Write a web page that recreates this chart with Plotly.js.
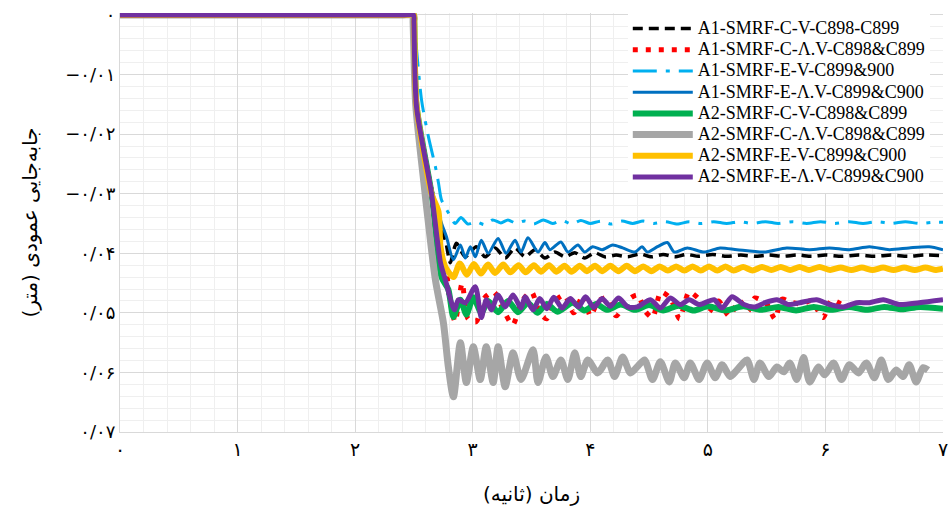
<!DOCTYPE html>
<html>
<head>
<meta charset="utf-8">
<script src="https://cdn.plot.ly/plotly-3.0.1.min.js"></script>
<style>html,body{margin:0;padding:0;background:#fff;}#chart{width:949px;height:516px;}</style>
</head>
<body>
<div id="chart"></div>
<script>
// ---- tick labels ----
const xTickVals = [0, 1, 2, 3, 4, 5, 6, 7];
const xTickText = ['۰', '۱', '۲', '۳', '۴', '۵', '۶', '۷'];
const yTickVals = [0, -0.01, -0.02, -0.03, -0.04, -0.05, -0.06, -0.07];
const yTickText = ['۰', '−۰/۰۱', '−۰/۰۲', '−۰/۰۳', '۰/۰۴', '۰/۰۵', '۰/۰۶', '۰/۰۷'];

// ---- series names ----
const seriesNames = [
  'A1-SMRF-C-V-C898-C899',
  'A1-SMRF-C-Λ.V-C898&C899',
  'A1-SMRF-E-V-C899&900',
  'A1-SMRF-E-Λ.V-C899&C900',
  'A2-SMRF-C-V-C898&C899',
  'A2-SMRF-C-Λ.V-C898&C899',
  'A2-SMRF-E-V-C899&C900',
  'A2-SMRF-E-Λ.V-C899&C900'
];

// ---- A1-SMRF-C-V (black dashed) ----
const tBlack = [0, 2.4, 2.5, 2.503, 2.522, 2.66, 2.74, 2.768, 2.81, 2.861, 2.937, 3.03, 3.106, 3.191, 3.276, 3.36, 3.445, 3.53, 3.614, 3.699, 3.784, 3.868, 3.953, 4.038, 4.122, 4.22, 4.32, 4.42, 4.52, 4.62, 4.72, 4.82, 4.92, 5.04, 5.16, 5.28, 5.40, 5.52, 5.64, 5.76, 5.88, 6.00, 6.14, 6.28, 6.42, 6.56, 6.70, 6.84, 7.00];
const vBlack = [0, 0, 0, -0.0012, -0.0152, -0.0300, -0.0365, -0.0378, -0.0416, -0.0383, -0.0406, -0.0389, -0.0406, -0.0391, -0.0408, -0.0391, -0.0406, -0.0394, -0.0408, -0.0398, -0.0406, -0.0399, -0.0408, -0.0399, -0.0406, -0.0403, -0.0406, -0.0401, -0.0406, -0.0402, -0.0406, -0.0402, -0.0405, -0.0402, -0.0405, -0.0403, -0.0405, -0.0403, -0.0405, -0.0403, -0.0405, -0.0403, -0.0405, -0.0403, -0.0405, -0.0403, -0.0405, -0.0403, -0.0404];

// ---- A1-SMRF-C-8V (red dotted) ----
const tRed = [0, 2.4, 2.5, 2.503, 2.522, 2.65, 2.73, 2.776, 2.80, 2.85, 2.91, 2.96, 3.03, 3.10, 3.18, 3.26, 3.34, 3.42, 3.50, 3.57, 3.63, 3.70, 3.78, 3.86, 3.94, 4.00, 4.07, 4.14, 4.22, 4.31, 4.40, 4.47, 4.53, 4.60, 4.68, 4.76, 4.84, 4.94, 5.00, 5.09, 5.18, 5.27, 5.34, 5.40, 5.50, 5.57, 5.63, 5.70, 5.80, 5.88, 5.98, 6.05, 6.13];
const vRed = [0, 0, 0, -0.0012, -0.0152, -0.0300, -0.0415, -0.0433, -0.0470, -0.0515, -0.0450, -0.0510, -0.0515, -0.0475, -0.0465, -0.0495, -0.0520, -0.0480, -0.0465, -0.0500, -0.0510, -0.0480, -0.0470, -0.0500, -0.0470, -0.0505, -0.0480, -0.0475, -0.0505, -0.0480, -0.0470, -0.0498, -0.0508, -0.0465, -0.0475, -0.0510, -0.0465, -0.0480, -0.0500, -0.0480, -0.0505, -0.0480, -0.0497, -0.0475, -0.0485, -0.0510, -0.0477, -0.0482, -0.0485, -0.0480, -0.0508, -0.0479, -0.0485];

// ---- A1-SMRF-E-V (light blue dash-dot) ----
const tLBlue = [0, 2.4, 2.5, 2.503, 2.565, 2.624, 2.683, 2.709, 2.734, 2.793, 2.85, 2.90, 2.96, 3.03, 3.10, 3.17, 3.24, 3.30, 3.37, 3.44, 3.52, 3.60, 3.68, 3.76, 3.84, 3.92, 4.00, 4.09, 4.18, 4.27, 4.36, 4.45, 4.54, 4.64, 4.74, 4.84, 4.94, 5.05, 5.16, 5.27, 5.38, 5.49, 5.60, 5.72, 5.84, 5.96, 6.08, 6.20, 6.32, 6.44, 6.56, 6.68, 6.80, 6.92, 7.00];
const vLBlue = [0, 0, 0, -0.0012, -0.0143, -0.0205, -0.0255, -0.0282, -0.0310, -0.0332, -0.0350, -0.0340, -0.0351, -0.0347, -0.0352, -0.0344, -0.0349, -0.0344, -0.0350, -0.0346, -0.0351, -0.0344, -0.0350, -0.0345, -0.0351, -0.0345, -0.0350, -0.0346, -0.0351, -0.0346, -0.0350, -0.0346, -0.0350, -0.0347, -0.0351, -0.0347, -0.0350, -0.0347, -0.0350, -0.0347, -0.0350, -0.0347, -0.0350, -0.0347, -0.0350, -0.0347, -0.0350, -0.0347, -0.0350, -0.0347, -0.0350, -0.0347, -0.0350, -0.0348, -0.0348];

// ---- A1-SMRF-E-8V (blue solid) ----
const tBlue = [0, 2.4, 2.5, 2.503, 2.522, 2.66, 2.734, 2.776, 2.836, 2.895, 2.937, 2.98, 3.022, 3.073, 3.132, 3.216, 3.284, 3.36, 3.411, 3.47, 3.555, 3.614, 3.657, 3.75, 3.81, 3.895, 3.953, 4.02, 4.10, 4.19, 4.275, 4.38, 4.44, 4.486, 4.571, 4.655, 4.715, 4.825, 4.969, 5.104, 5.248, 5.477, 5.671, 5.866, 6.035, 6.204, 6.374, 6.543, 6.712, 6.882, 7.0];
const vBlue = [0, 0, 0, -0.0012, -0.0152, -0.0298, -0.0349, -0.0372, -0.0411, -0.0386, -0.0408, -0.0389, -0.0406, -0.0378, -0.0400, -0.0375, -0.0400, -0.0378, -0.0398, -0.0374, -0.0398, -0.0382, -0.0394, -0.0381, -0.0398, -0.0386, -0.0398, -0.0389, -0.0394, -0.0386, -0.0391, -0.0398, -0.0389, -0.0398, -0.0389, -0.0382, -0.0398, -0.0391, -0.0398, -0.0391, -0.0394, -0.0398, -0.0391, -0.0394, -0.0391, -0.0394, -0.0389, -0.0394, -0.0391, -0.0389, -0.0394];

// ---- A2-SMRF-C-V (green) ----
const tGreen = [0, 2.4, 2.5, 2.503, 2.522, 2.65, 2.734, 2.793, 2.836, 2.895, 2.946, 3.005, 3.073, 3.132, 3.216, 3.30, 3.385, 3.47, 3.55, 3.63, 3.72, 3.85, 3.95, 4.05, 4.14, 4.26, 4.38, 4.50, 4.62, 4.75, 4.88, 5.00, 5.15, 5.30, 5.45, 5.60, 5.75, 5.90, 6.05, 6.20, 6.35, 6.50, 6.65, 6.80, 7.00];
const vGreen = [0, 0, 0, -0.0012, -0.0152, -0.0300, -0.0440, -0.0461, -0.0507, -0.0478, -0.0503, -0.0474, -0.0500, -0.0480, -0.0499, -0.0480, -0.0499, -0.0483, -0.0500, -0.0485, -0.0498, -0.0483, -0.0496, -0.0485, -0.0495, -0.0486, -0.0495, -0.0487, -0.0496, -0.0488, -0.0496, -0.0489, -0.0496, -0.0489, -0.0495, -0.0490, -0.0496, -0.0490, -0.0495, -0.0490, -0.0495, -0.0490, -0.0494, -0.0490, -0.0493];

// ---- A2-SMRF-C-8V (gray) ----
const tGray = [0, 2.39, 2.49, 2.493, 2.515, 2.582, 2.683, 2.751, 2.793, 2.836, 2.895, 2.946, 3.005, 3.064, 3.115, 3.174, 3.216, 3.276, 3.343, 3.411, 3.513, 3.555, 3.623, 3.682, 3.750, 3.809, 3.868, 3.919, 3.979, 4.063, 4.148, 4.207, 4.275, 4.342, 4.402, 4.461, 4.529, 4.596, 4.672, 4.723, 4.799, 4.850, 4.926, 4.994, 5.062, 5.121, 5.189, 5.248, 5.333, 5.392, 5.443, 5.519, 5.587, 5.646, 5.697, 5.756, 5.815, 5.866, 5.942, 5.993, 6.069, 6.137, 6.204, 6.281, 6.348, 6.416, 6.475, 6.535, 6.602, 6.662, 6.712, 6.772, 6.831, 6.873];
const vGray = [0, 0, 0, -0.0012, -0.0150, -0.0277, -0.0445, -0.0517, -0.0591, -0.0641, -0.0550, -0.0617, -0.0557, -0.0612, -0.0557, -0.0617, -0.0557, -0.0624, -0.0567, -0.0612, -0.0562, -0.0617, -0.0574, -0.0607, -0.0579, -0.0612, -0.0567, -0.0607, -0.0579, -0.0601, -0.0579, -0.0607, -0.0574, -0.0601, -0.0590, -0.0579, -0.0612, -0.0582, -0.0616, -0.0584, -0.0609, -0.0584, -0.0612, -0.0584, -0.0609, -0.0587, -0.0607, -0.0596, -0.0579, -0.0612, -0.0584, -0.0607, -0.0591, -0.0599, -0.0584, -0.0612, -0.0575, -0.0616, -0.0591, -0.0604, -0.0584, -0.0612, -0.0587, -0.0601, -0.0584, -0.0609, -0.0579, -0.0612, -0.0596, -0.0607, -0.0587, -0.0616, -0.0592, -0.0596];

// ---- A2-SMRF-E-V (yellow) ----
const tYellow = [0, 2.4, 2.5, 2.503, 2.522, 2.65, 2.709, 2.726, 2.768, 2.836, 2.89, 2.95, 3.01, 3.07, 3.13, 3.19, 3.26, 3.32, 3.39, 3.45, 3.52, 3.58, 3.65, 3.71, 3.78, 3.84, 3.91, 3.97, 4.04, 4.10, 4.17, 4.24, 4.31, 4.38, 4.45, 4.52, 4.59, 4.66, 4.73, 4.80, 4.87, 4.94, 5.01, 5.08, 5.15, 5.22, 5.30, 5.38, 5.46, 5.54, 5.62, 5.70, 5.78, 5.86, 5.95, 6.04, 6.13, 6.22, 6.31, 6.40, 6.49, 6.58, 6.67, 6.76, 6.85, 6.94, 7.00];
const vYellow = [0, 0, 0, -0.0012, -0.0152, -0.0300, -0.0330, -0.0389, -0.0423, -0.0440, -0.0417, -0.0436, -0.0418, -0.0434, -0.0419, -0.0433, -0.0419, -0.0432, -0.0420, -0.0432, -0.0420, -0.0431, -0.0420, -0.0431, -0.0421, -0.0431, -0.0421, -0.0430, -0.0421, -0.0430, -0.0421, -0.0430, -0.0421, -0.0430, -0.0422, -0.0430, -0.0422, -0.0429, -0.0422, -0.0429, -0.0422, -0.0429, -0.0422, -0.0429, -0.0422, -0.0429, -0.0423, -0.0429, -0.0423, -0.0428, -0.0423, -0.0428, -0.0423, -0.0428, -0.0423, -0.0428, -0.0424, -0.0428, -0.0424, -0.0428, -0.0424, -0.0428, -0.0424, -0.0428, -0.0424, -0.0428, -0.0426];

// ---- A2-SMRF-E-8V (purple) ----
const tPurple = [0, 2.4, 2.497, 2.5, 2.522, 2.649, 2.726, 2.768, 2.844, 2.878, 2.937, 3.022, 3.073, 3.115, 3.157, 3.216, 3.276, 3.343, 3.411, 3.445, 3.513, 3.57, 3.63, 3.69, 3.76, 3.83, 3.90, 3.96, 4.03, 4.10, 4.17, 4.24, 4.32, 4.40, 4.512, 4.596, 4.681, 4.765, 4.842, 4.926, 5.053, 5.121, 5.206, 5.307, 5.400, 5.485, 5.587, 5.688, 5.781, 5.925, 6.035, 6.154, 6.264, 6.374, 6.492, 6.628, 6.797, 7.0];
const vPurple = [0, 0, 0, -0.0012, -0.0154, -0.0299, -0.0416, -0.0445, -0.0495, -0.0478, -0.0483, -0.0456, -0.0508, -0.0478, -0.0495, -0.0470, -0.0490, -0.0470, -0.0492, -0.0473, -0.0495, -0.0476, -0.0493, -0.0474, -0.0492, -0.0476, -0.0490, -0.0473, -0.0491, -0.0476, -0.0489, -0.0475, -0.0490, -0.0490, -0.0478, -0.0492, -0.0475, -0.0486, -0.0478, -0.0486, -0.0478, -0.0492, -0.0473, -0.0486, -0.0490, -0.0483, -0.0478, -0.0486, -0.0483, -0.0478, -0.0486, -0.0490, -0.0483, -0.0483, -0.0478, -0.0486, -0.0483, -0.0478];

const seriesT = [tBlack, tRed, tLBlue, tBlue, tGreen, tGray, tYellow, tPurple];
const seriesV = [vBlack, vRed, vLBlue, vBlue, vGreen, vGray, vYellow, vPurple];

// styles (kept apart from the data)
const styles = [
  {color: '#000000', width: 3.5, dash: '10px,6px'},
  {color: '#ff0000', width: 5, dash: '5px,8px'},
  {color: '#00b0f0', width: 3, dash: '24px,9px,4px,9px'},
  {color: '#0070c0', width: 3, dash: 'solid'},
  {color: '#00b050', width: 6, dash: 'solid'},
  {color: '#a6a6a6', width: 7, dash: 'solid'},
  {color: '#ffc000', width: 6, dash: 'solid'},
  {color: '#7030a0', width: 5, dash: 'solid'}
];

const traces = seriesNames.map((name, i) => ({
  type: 'scatter',
  mode: 'lines',
  name: '<span style="font-size:18px">' + name.replace(/&/g, '&amp;') + '</span>',
  x: seriesT[i],
  y: seriesV[i],
  line: {color: styles[i].color, width: styles[i].width, dash: styles[i].dash, shape: 'spline', smoothing: 0.7}
}));

const serif = 'Liberation Serif, Times New Roman, DejaVu Sans, serif';
const persian = 'DejaVu Sans, Liberation Serif, serif';

const layout = {
  width: 949,
  height: 516,
  margin: {l: 120, r: 6, t: 13, b: 84},
  paper_bgcolor: '#ffffff',
  plot_bgcolor: '#ffffff',
  showlegend: true,
  hovermode: false,
  legend: {
    x: 0.617, xanchor: 'left', y: 1, yanchor: 'top',
    bgcolor: '#ffffff', borderwidth: 0,
    font: {family: serif, size: 14, color: '#000000'},
    itemwidth: 60,
    tracegroupgap: 0
  },
  xaxis: {
    range: [0, 7],
    tickmode: 'array', tickvals: xTickVals, ticktext: xTickText,
    ticks: '',
    ticklabeloverflow: 'allow',
    tickfont: {family: persian, size: 19, color: '#000000'},
    showgrid: true, gridcolor: '#d9d9d9', gridwidth: 1,
    minor: {tickmode: 'linear', tick0: 0, dtick: 0.2, showgrid: true, gridcolor: '#efefef', gridwidth: 1, ticks: ''},
    showline: true, linecolor: '#d9d9d9', linewidth: 1,
    zeroline: false,
    title: {text: '\u200Fزمان (ثانیه)\u200F', font: {family: persian, size: 20, color: '#000000'}, standoff: 28}
  },
  yaxis: {
    range: [-0.07, 0.00033],
    tickmode: 'array', tickvals: yTickVals, ticktext: yTickText,
    ticks: '',
    tickfont: {family: persian, size: 18, color: '#000000'},
    showgrid: true, gridcolor: '#d9d9d9', gridwidth: 1,
    minor: {tickmode: 'linear', tick0: 0, dtick: 0.002, showgrid: true, gridcolor: '#efefef', gridwidth: 1, ticks: ''},
    showline: true, linecolor: '#d9d9d9', linewidth: 1,
    zeroline: false,
    title: {text: '\u200Fجابه‌جایی عمودی (متر)\u200F', font: {family: persian, size: 20, color: '#000000'}, standoff: 22}
  }
};

Plotly.newPlot('chart', traces, layout, {staticPlot: true, displayModeBar: false});
</script>
</body>
</html>
